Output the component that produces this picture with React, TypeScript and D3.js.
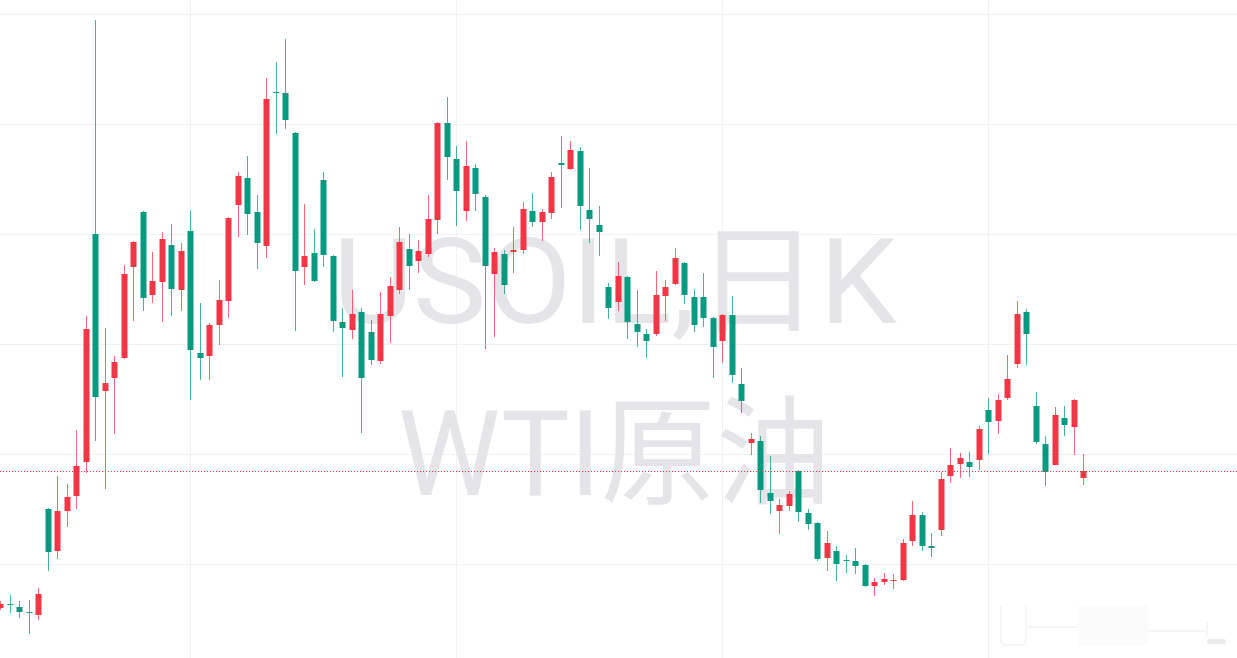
import * as d3 from "d3";

const W = 1237;
const H = 658;

const UP = "#F23645";
const DOWN = "#089981";

// daily OHLC (red = up, green = down)
const opens = [
  36.0, 36.32, 36.09, 35.64, 35.36, 45.0, 41.18, 44.82, 46.18, 49.27,
  70.0, 55.73, 56.91, 58.73, 67.0, 72.0, 64.45, 65.64, 69.0, 64.91,
  70.27, 59.18, 58.91, 61.73, 63.91, 72.64, 75.09, 72.0, 68.91, 82.91,
  82.82, 79.18, 67.0, 68.27, 74.91, 68.0, 62.0, 61.27, 62.91, 61.09,
  58.45, 62.55, 64.91, 68.64, 67.55, 68.18, 71.27, 80.09, 76.82, 72.09,
  76.0, 73.36, 66.36, 68.18, 68.36, 68.55, 72.09, 71.09, 71.91, 76.45,
  75.91, 77.55, 72.18, 70.82, 65.18, 63.82, 66.09, 61.82, 60.91, 60.91,
  64.36, 65.45, 67.36, 64.27, 64.27, 62.36, 60.27, 62.64, 56.36, 51.0,
  51.18, 46.45, 44.82, 45.27, 48.45, 44.64, 43.73, 40.55, 41.18, 40.32,
  40.27, 39.91, 38.0, 38.36, 38.45, 38.55, 42.09, 44.45, 41.64, 43.09,
  48.0, 49.09, 49.27, 49.45, 54.0, 53.0, 55.09, 58.18, 62.91, 54.36,
  50.91, 49.0, 53.27, 52.45, 47.82,
];

const closes = [
  36.36, 36.23, 35.64, 35.55, 37.27, 41.09, 44.82, 46.09, 48.91, 61.36,
  55.18, 56.45, 58.36, 66.36, 69.27, 64.18, 65.73, 69.55, 65.0, 68.45,
  59.45, 58.73, 61.73, 64.0, 71.45, 75.27, 71.82, 69.18, 82.27, 82.82,
  80.36, 66.64, 68.0, 65.73, 68.09, 62.09, 61.45, 62.73, 56.91, 58.55,
  62.73, 65.27, 69.27, 67.09, 68.45, 71.36, 80.09, 77.0, 73.91, 76.18,
  73.64, 67.09, 68.36, 65.36, 68.55, 72.27, 71.09, 72.0, 75.18, 76.27,
  77.64, 72.55, 71.36, 70.18, 63.27, 66.18, 62.0, 61.09, 60.27, 64.45,
  65.18, 67.82, 64.45, 61.73, 62.36, 59.73, 62.64, 57.18, 54.82, 51.36,
  46.73, 45.73, 45.36, 46.36, 44.73, 43.64, 40.45, 41.91, 40.0, 40.23,
  39.82, 38.0, 38.36, 38.64, 38.55, 41.91, 44.45, 41.64, 41.45, 47.73,
  49.0, 49.64, 48.82, 52.27, 52.91, 54.91, 56.82, 62.73, 60.91, 51.09,
  48.36, 53.55, 52.64, 54.91, 48.45,
];

const highs = [
  36.64, 37.18, 36.64, 36.73, 37.82, 45.09, 48.0, 47.27, 52.18, 62.55,
  89.45, 61.45, 58.91, 67.18, 69.36, 72.09, 68.36, 70.18, 70.91, 69.18,
  72.09, 63.73, 61.91, 65.82, 71.55, 75.64, 77.09, 73.55, 84.18, 85.64,
  87.73, 79.27, 72.73, 70.45, 75.64, 68.09, 63.27, 64.91, 63.27, 62.18,
  64.73, 66.09, 70.64, 70.0, 69.45, 73.55, 80.18, 82.45, 78.0, 78.45,
  76.36, 73.55, 68.73, 68.55, 70.64, 72.91, 73.73, 72.27, 75.64, 78.91,
  78.45, 77.91, 76.0, 72.55, 65.55, 67.45, 66.18, 64.91, 61.36, 66.64,
  65.82, 68.73, 67.45, 65.0, 66.45, 62.45, 62.73, 64.36, 57.82, 51.91,
  51.64, 49.82, 45.91, 46.64, 48.55, 45.0, 43.82, 43.0, 41.64, 40.82,
  41.45, 40.0, 38.73, 39.18, 39.09, 42.27, 45.73, 44.73, 42.82, 48.36,
  50.55, 50.09, 50.18, 52.55, 55.09, 55.45, 59.0, 63.91, 63.18, 55.64,
  51.64, 54.27, 54.36, 55.0, 50.0,
];

const lows = [
  35.82, 35.55, 35.09, 33.64, 34.91, 39.36, 40.45, 43.36, 45.0, 48.27,
  51.18, 46.82, 51.82, 58.64, 62.09, 63.0, 63.73, 62.0, 62.55, 63.0,
  54.91, 56.73, 56.73, 59.91, 62.36, 69.73, 69.91, 66.82, 67.82, 79.09,
  79.55, 61.18, 65.36, 65.64, 67.0, 61.09, 57.0, 60.45, 51.91, 58.09,
  58.18, 60.09, 64.55, 64.91, 66.45, 67.91, 70.0, 74.91, 70.73, 71.18,
  72.09, 59.55, 60.64, 64.55, 66.45, 68.18, 70.64, 69.36, 71.36, 72.36,
  75.82, 70.36, 69.18, 68.0, 62.27, 63.0, 60.45, 59.73, 58.73, 60.73,
  62.09, 65.36, 63.64, 61.09, 61.55, 56.91, 58.27, 56.45, 53.73, 49.91,
  45.55, 44.55, 42.73, 44.82, 43.82, 43.09, 40.27, 39.36, 38.45, 39.18,
  39.09, 37.91, 37.09, 38.09, 37.73, 38.45, 41.64, 41.18, 40.64, 42.55,
  47.36, 47.82, 47.91, 48.55, 50.0, 51.82, 54.91, 57.82, 58.09, 50.91,
  47.09, 49.0, 51.64, 49.91, 47.18,
];

const priceGrid = [40, 50, 60, 70, 80, 90];
const timeGrid = [20, 48, 76, 104];
const watermark = ["USOIL,日K", "WTI原油"];

export default function App() {
  const n = closes.length;
  const x = d3.scaleLinear().domain([0, n - 1]).range([0, 1083]);
  const y = d3.scaleLinear().domain([40, 90]).range([564, 14]);
  const last = closes[n - 1];

  return (
    <svg
      width={W}
      height={H}
      style={{ position: "absolute", left: 0, top: 0, background: "#fff" }}
    >
      <rect width={W} height={H} fill="#fff" />
      {priceGrid.map((p) => (
        <line key={"h" + p} x1={0} x2={W} y1={Math.round(y(p)) + 0.5} y2={Math.round(y(p)) + 0.5} stroke="#f0f1f4" />
      ))}
      {timeGrid.map((i) => (
        <line key={"v" + i} x1={Math.round(x(i)) + 0.5} x2={Math.round(x(i)) + 0.5} y1={0} y2={H} stroke="#f0f1f4" />
      ))}

      <g fill="#e5e5e9" fontFamily="Roboto, 'Noto Sans CJK SC', sans-serif" fontSize={118}>
        <text x={333} y={323} textLength={564} lengthAdjust="spacingAndGlyphs">{watermark[0]}</text>
        <text x={398} y={495} textLength={433} lengthAdjust="spacingAndGlyphs">{watermark[1]}</text>
      </g>

      {/* faint blurred widgets bottom right */}
      <g stroke="#f5f5f5" fill="none" strokeWidth={2}>
        <path d="M1001,606 V640 Q1001,645 1006,645 H1021 Q1026,645 1026,640 V606" />
        <line x1={1028} x2={1078} y1={627} y2={627} />
        <line x1={1147} x2={1207} y1={631} y2={631} />
        <line x1={1207} x2={1207} y1={622} y2={636} />
      </g>
      <rect x={1078} y={606} width={70} height={40} fill="#fbfbfb" />
      <rect x={1207} y={639} width={19} height={5} rx={2} fill="#ececec" />

      {closes.map((c, i) => {
        const o = opens[i];
        const col = c >= o ? UP : DOWN;
        const cx = Math.round(x(i));
        const top = Math.round(y(Math.max(o, c)));
        const bot = Math.round(y(Math.min(o, c)));
        return (
          <g key={i}>
            <rect
              x={cx}
              y={Math.round(y(highs[i]))}
              width={1}
              height={Math.max(1, Math.round(y(lows[i])) - Math.round(y(highs[i])))}
              fill={col}
              opacity={0.75}
            />
            <rect x={cx - 2.5} y={top} width={6} height={Math.max(1, bot - top)} fill={col} />
          </g>
        );
      })}

      <line
        x1={0}
        x2={W}
        y1={Math.round(y(last)) + 0.5}
        y2={Math.round(y(last)) + 0.5}
        stroke={UP}
        strokeDasharray="1 2"
      />
    </svg>
  );
}
